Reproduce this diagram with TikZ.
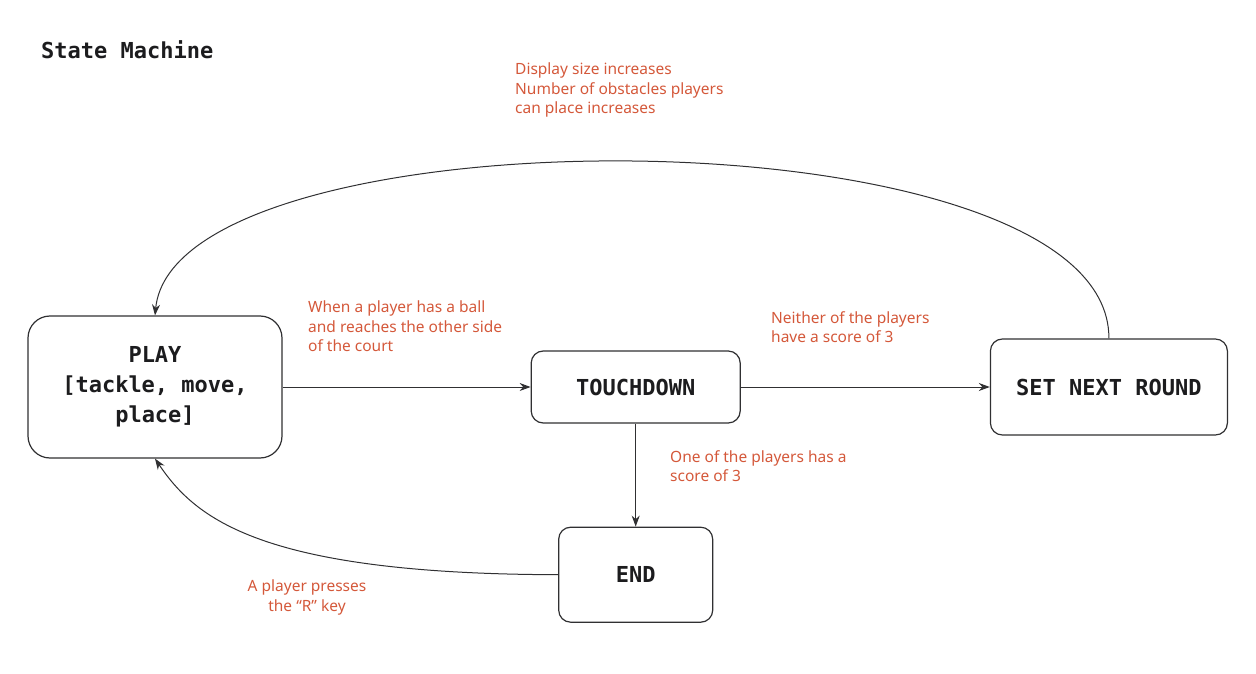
\documentclass[tikz,border=0pt]{standalone}
\usepackage{fontspec}
\setmainfont{Noto Sans}
\setmonofont{DejaVu Sans Mono}
\usetikzlibrary{positioning,arrows.meta}
\definecolor{Ink}{RGB}{28,28,30}
\definecolor{Edge}{RGB}{48,48,50}
\definecolor{Rust}{RGB}{212,88,58}

\begin{document}
\begin{tikzpicture}[x=1pt,y=-1pt,
 s/.style={rounded corners=12pt,draw=Edge,line width=1.2pt,fill=white,align=center,text=Ink,font=\ttfamily\bfseries\fontsize{22}{30}\selectfont},
 a/.style={-{Stealth[length=11pt,width=8pt]},line width=1pt,Edge},
 l/.style={inner sep=0pt,text=Rust,align=left,font=\fontsize{15.5}{19.5}\selectfont}]
\useasboundingbox (0,0) rectangle (1256,674);
\node[inner sep=0pt,anchor=base west,text=Ink,font=\ttfamily\bfseries\fontsize{22}{30}\selectfont] (title) at (41,59) {State Machine};
\node[s,rounded corners=22pt,minimum width=254pt,minimum height=142pt] (play) at (155,387) {PLAY\\{[}tackle, move,\\place]};
\node[s,minimum width=209pt,minimum height=72pt,right=248pt of play] (td) {TOUCHDOWN};
\node[s,minimum width=237pt,minimum height=96pt,right=249pt of td] (next) {SET NEXT ROUND};
\node[s,minimum width=154pt,minimum height=95pt,below=103pt of td] (end) {END};
\draw[a] (play) -- (td);
\draw[a] (td) -- (next);
\draw[a] (td.south) -- (td.south |- end.north);
\draw[a] (next.north) .. controls (1110,107) and (175,107) .. (play.north);
\draw[a] (end.west) .. controls (260,574) and (195,518) .. (play.south);
% edge labels
\node[l,anchor=north west] (lgrow) at (515,63) {Display size increases\\Number of obstacles players\\can place increases};
\node[l,anchor=north west] (lball) at (308,301) {When a player has a ball\\and reaches the other side\\of the court};
\node[l,anchor=north west] (lnone) at (771,311) {Neither of the players\\have a score of 3};
\node[l,anchor=north west] (lwin) at (670,450) {One of the players has a\\score of 3};
\node[l,anchor=north,align=center] (lkey) at (307,580) {A player presses\\the “R” key};
\end{tikzpicture}
\end{document}
